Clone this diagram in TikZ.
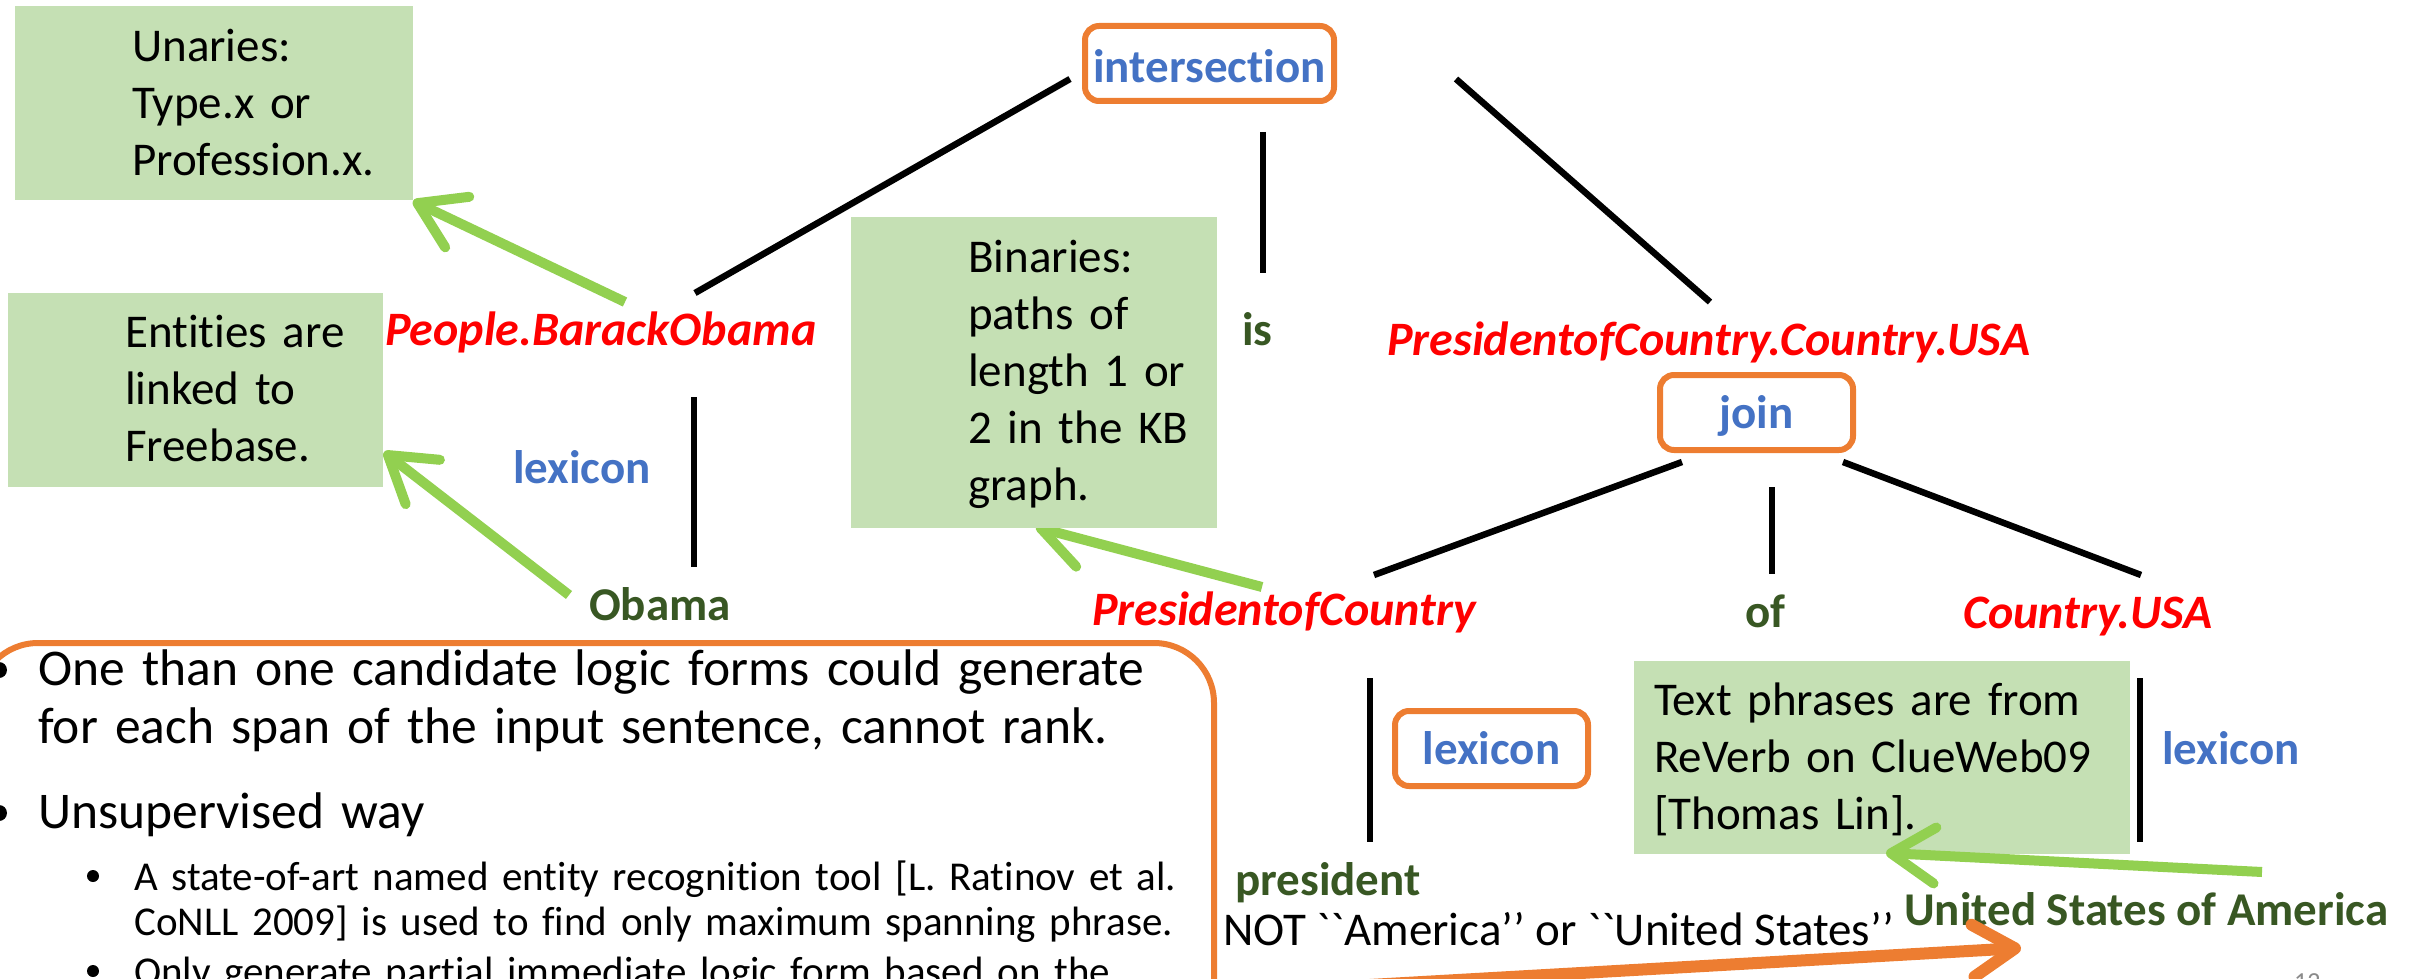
\documentclass[tikz,border=0pt]{standalone}
\usepackage{fontspec}
\newfontfamily\slidefont{Carlito}[Ligatures=CommonOff]
\usetikzlibrary{arrows.meta}
\definecolor{notegreen}{HTML}{C5E0B4}
\definecolor{ptrgreen}{HTML}{92D050}
\definecolor{wordgreen}{HTML}{385723}
\definecolor{relblue}{HTML}{4472C4}
\definecolor{hiorange}{HTML}{ED7D31}
\definecolor{logicred}{HTML}{FF0000}
\definecolor{pagegray}{HTML}{8B8B8B}
\pgfdeclarelayer{background}
\pgfsetlayers{background,main}

\begin{document}
\begin{tikzpicture}[x=1pt, y=-1pt,
  every node/.style={inner sep=0pt},
  txt/.style={anchor=base west, align=left, font=\slidefont\fontsize{47}{57}\selectfont},
  lbl/.style={anchor=base west, font=\slidefont\bfseries\fontsize{47}{57}\selectfont},
  logic/.style={lbl, text=logicred, font=\slidefont\bfseries\itshape\fontsize{48}{57}\selectfont},
  word/.style={lbl, text=wordgreen},
  rel/.style={lbl, text=relblue},
  opbox/.style={draw=hiorange, line width=6pt, rounded corners=14pt, minimum width=193pt,
    text height=53pt, text depth=22pt, anchor=base, text=relblue,
    font=\slidefont\bfseries\fontsize{47}{57}\selectfont},
  note/.style={fill=notegreen, anchor=north west},
  notetext/.style={txt, text width=#1},
  edge/.style={line width=6.5pt},
  ptr/.style={draw=ptrgreen, line width=10pt, -{Straight Barb[length=44pt, width=56pt, round]}},
  bigptr/.style={draw=hiorange, line width=12pt, -{Straight Barb[length=42pt, width=52pt, round]}},
  item/.style={anchor=base west, align=left, text width=1250pt},
  dot/.style={circle, fill=black, minimum size=#1},
]
\useasboundingbox (0,0) rectangle (2425,979);

% --- explanatory notes (green boxes)
\node[note, minimum width=398pt, minimum height=194pt] (unbox) at (15,6) {};
\node[notetext=300pt] (untext) at (132,62) {Unaries:\\Type.x or\\Profession.x.};
\node[note, minimum width=375pt, minimum height=194pt] (entbox) at (8,293) {};
\node[notetext=300pt] (enttext) at (125,347) {Entities are\\linked to\\Freebase.};
\node[note, minimum width=366pt, minimum height=311pt] (binbox) at (851,217) {};
\node[notetext=300pt] (bintext) at (968,272) {Binaries:\\paths of\\length 1 or\\2 in the KB\\graph.};
\node[note, minimum width=496pt, minimum height=193pt] (txtbox) at (1634,661) {};
\node[notetext=480pt] (txttext) at (1654,715) {Text phrases are from\\ReVerb on ClueWeb09\\{[}Thomas Lin{]}.};

% --- derivation tree
\node[opbox, minimum width=249pt, text height=57pt, text depth=18pt] (inter) at (1209.5,83) {intersection};
\node[logic] (pbo) at (385,345) {People.BarackObama};
\node[word] (is) at (1242,345) {is};
\node[logic] (pcc) at (1387,355) {PresidentofCountry.Country.USA};
\node[opbox] (join) at (1756.5,428) {join};
\node[rel] (lex1) at (513,483) {lexicon};
\node[word] (obama) at (589,620) {Obama};
\node[logic] (poc) at (1092,625) {PresidentofCountry};
\node[word] (of) at (1745,627) {of};
\node[logic] (cusa) at (1963,628) {Country.USA};
\node[opbox] (lex2) at (1491.5,764) {lexicon};
\node[rel] (lex3) at (2162,764) {lexicon};
\node[word] (pres) at (1235,895) {president};
\node[txt] (notam) at (1223,945) {NOT ``America’’ or ``United States’’};
\node[word] (usa) at (1904,925) {United States of America};

% tree edge end points
\coordinate (e1a) at (1070,79);  \coordinate (e1b) at (695,293);
\coordinate (e2a) at (1263,132); \coordinate (e2b) at (1263,273);
\coordinate (e3a) at (1456,79);  \coordinate (e3b) at (1710,302);
\coordinate (e4a) at (694,397);  \coordinate (e4b) at (694,567);
\coordinate (e5a) at (1682,462); \coordinate (e5b) at (1374,575);
\coordinate (e6a) at (1772,487); \coordinate (e6b) at (1772,574);
\coordinate (e7a) at (1843,462); \coordinate (e7b) at (2141,575);
\coordinate (e8a) at (1370,678); \coordinate (e8b) at (1370,842);
\coordinate (e9a) at (2140,678); \coordinate (e9b) at (2140,842);
\draw[edge] (e1a) -- (e1b);
\draw[edge] (e2a) -- (e2b);
\draw[edge] (e3a) -- (e3b);
\draw[edge] (e4a) -- (e4b);
\draw[edge] (e5a) -- (e5b);
\draw[edge] (e6a) -- (e6b);
\draw[edge] (e7a) -- (e7b);
\draw[edge] (e8a) -- (e8b);
\draw[edge] (e9a) -- (e9b);

% --- pointers from tree labels to the notes
\coordinate (p1) at (625,302);  \coordinate (t1) at (413,201);
\coordinate (p2) at (569,595);  \coordinate (t2) at (384,452);
\coordinate (p3) at (1262,587); \coordinate (t3) at (1036,527);
\coordinate (p4) at (2262,872); \coordinate (t4) at (1886,853);
\draw[ptr] (p1) -- (t1);
\draw[ptr] (p2) -- (t2);
\begin{pgfonlayer}{background}
\draw[ptr] (p3) -- (t3);
\end{pgfonlayer}
\draw[ptr] (p4) -- (t4);

% --- remarks panel
\node[draw=hiorange, line width=6pt, rounded corners=60pt, anchor=north west,
  minimum width=1236pt, minimum height=420pt] (panel) at (-25,640) {};
\node[dot=16pt] (d1) at (-1,670) {};
\node[item, font=\slidefont\fontsize{51.5}{58}\selectfont] (b1) at (38,685)
  {One than one candidate logic forms could generate\\for each span of the input sentence, cannot rank.};
\node[dot=16pt] (d2) at (-1,813) {};
\node[item, font=\slidefont\fontsize{51.5}{58}\selectfont] (b2) at (38,828) {Unsupervised way};
\node[dot=12pt] (d3) at (93,876) {};
\node[item, font=\slidefont\fontsize{41}{45}\selectfont] (b3) at (134,890)
  {A state-of-art named entity recognition tool [L. Ratinov et al.\\CoNLL 2009] is used to find only maximum spanning phrase.};
\node[dot=12pt] (d4) at (93,971) {};
\node[item, font=\slidefont\fontsize{41}{45}\selectfont] (b4) at (134,985)
  {Only generate partial immediate logic form based on the};

\coordinate (o1) at (1211,994); \coordinate (o2) at (2021,948);
\draw[bigptr] (o1) -- (o2);

\node[anchor=base west, text=pagegray, font=\slidefont\fontsize{26}{30}\selectfont] (pageno) at (2294,990) {12};
\end{tikzpicture}
\end{document}
